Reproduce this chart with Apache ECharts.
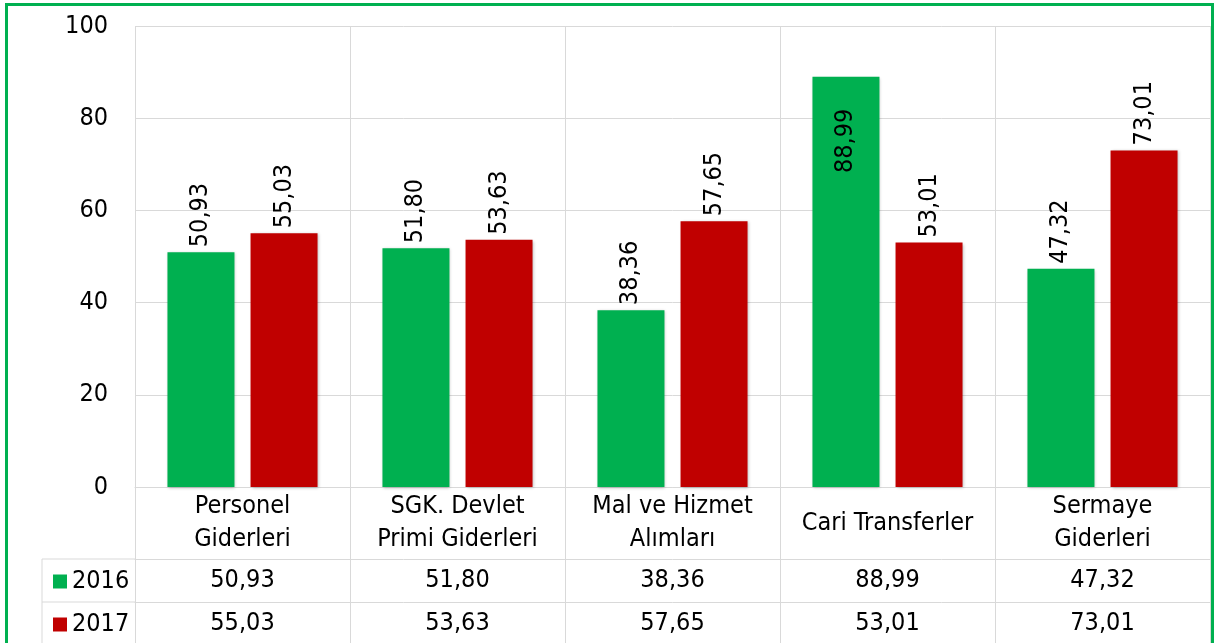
<!DOCTYPE html>
<html>
<head>
<meta charset="utf-8">
<script src="https://cdn.jsdelivr.net/npm/echarts@6/dist/echarts.min.js"></script>
<style>
  html, body { margin: 0; padding: 0; background: #fff; }
  #chart { width: 1215px; height: 643px; }
</style>
</head>
<body>
<div id="chart"></div>
<script>
// Chart data
const categories = ['Personel\nGiderleri', 'SGK. Devlet\nPrimi Giderleri', 'Mal ve Hizmet\nAlımları', 'Cari Transferler', 'Sermaye\nGiderleri'];
const years = ['2016', '2017'];
const values2016 = [50.93, 51.80, 38.36, 88.99, 47.32];
const values2017 = [55.03, 53.63, 57.65, 53.01, 73.01];
const yTicks = { min: 0, max: 100, interval: 20 };

const GREEN = '#00B050';
const RED = '#C00000';
const GRID_LINE = '#D9D9D9';
const FONT = '"DejaVu Sans Condensed", "DejaVu Sans", sans-serif';
const FS = 25;

// Plot box (px)
const PLOT = { left: 135, right: 1210, top: 26, bottom: 487 };
const ROW1 = 559, ROW2 = 602, TABLE_LEFT = 42;

const fmt = v => v.toFixed(2).replace('.', ',');

const chart = echarts.init(document.getElementById('chart'));

const outsideLabel = {
  show: true,
  position: 'top',
  rotate: 90,
  align: 'left',
  verticalAlign: 'middle',
  distance: 5,
  color: '#000',
  fontFamily: FONT,
  fontSize: FS,
  formatter: p => fmt(p.value)
};

// Tall bars get their label inside the top end
const toBarData = vals => vals.map(v => v > 80
  ? { value: v, label: { position: 'insideTop', align: 'right', distance: 32 } }
  : v);

const barShadow = {
  shadowColor: 'rgba(0,0,0,0.25)',
  shadowBlur: 3,
  shadowOffsetX: 1,
  shadowOffsetY: 1
};

const tableAxis = (vals, offset, margin) => ({
  type: 'category',
  data: vals.map(fmt),
  position: 'bottom',
  offset: offset,
  axisLine: { show: true, lineStyle: { color: GRID_LINE, width: 1 } },
  axisTick: { show: false },
  splitLine: { show: false },
  axisLabel: {
    margin: margin,
    verticalAlign: 'middle',
    color: '#000',
    fontFamily: FONT,
    fontSize: FS
  }
});

// one legend box per table row
const rowLegend = (name, top) => ({
  data: [name],
  left: 48,
  top: top,
  itemWidth: 14,
  itemHeight: 14,
  icon: 'rect',
  selectedMode: false,
  textStyle: { color: '#000', fontFamily: FONT, fontSize: FS, lineHeight: 24 }
});

const line = (x1, y1, x2, y2) => ({
  type: 'line',
  silent: true,
  shape: { x1, y1, x2, y2 },
  style: { stroke: GRID_LINE, lineWidth: 1 }
});

const option = {
  animation: false,
  grid: {
    left: PLOT.left,
    right: 1215 - PLOT.right,
    top: PLOT.top,
    bottom: 643 - PLOT.bottom
  },
  legend: [
    rowLegend(years[0], ROW1 + 5),
    rowLegend(years[1], ROW2 + 5)
  ],
  xAxis: [
    {
      type: 'category',
      data: categories,
      axisLine: { show: true, lineStyle: { color: GRID_LINE } },
      axisTick: { show: true, length: 643 - PLOT.bottom, lineStyle: { color: GRID_LINE } },
      splitLine: { show: true, interval: 0, lineStyle: { color: GRID_LINE } },
      axisLabel: {
        interval: 0,
        margin: 36,
        verticalAlign: 'middle',
        lineHeight: 33,
        color: '#000',
        fontFamily: FONT,
        fontSize: FS
      }
    },
    tableAxis(values2016, ROW1 - PLOT.bottom, 21),
    tableAxis(values2017, ROW2 - PLOT.bottom, 21)
  ],
  yAxis: {
    type: 'value',
    min: yTicks.min,
    max: yTicks.max,
    interval: yTicks.interval,
    axisLine: { show: false },
    axisTick: { show: false },
    splitLine: { lineStyle: { color: GRID_LINE } },
    axisLabel: { margin: 27, color: '#000', fontFamily: FONT, fontSize: FS }
  },
  series: [
    {
      name: years[0],
      type: 'bar',
      data: toBarData(values2016),
      barWidth: 67,
      barGap: '24%',
      itemStyle: Object.assign({ color: GREEN }, barShadow),
      label: outsideLabel
    },
    {
      name: years[1],
      type: 'bar',
      data: toBarData(values2017),
      barWidth: 67,
      barGap: '24%',
      itemStyle: Object.assign({ color: RED }, barShadow),
      label: outsideLabel
    }
  ],
  graphic: [
    // left stub of the data table
    line(TABLE_LEFT, ROW1, PLOT.left, ROW1),
    line(TABLE_LEFT, ROW2, PLOT.left, ROW2),
    line(TABLE_LEFT, ROW1, TABLE_LEFT, 643),
    // frame
    {
      type: 'rect',
      silent: true,
      shape: { x: 6.5, y: 4.5, width: 1206, height: 660 },
      style: { fill: null, stroke: GREEN, lineWidth: 3 },
      z: 100
    }
  ]
};

chart.setOption(option);
</script>
</body>
</html>
